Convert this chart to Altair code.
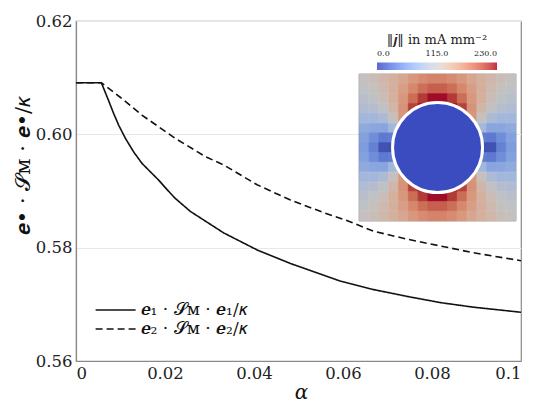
import altair as alt
import pandas as pd

# ---------------- data ----------------
alpha_e1 = [0.0, 0.0057, 0.0073, 0.00845, 0.0096, 0.0111, 0.01295, 0.0148, 0.0167,
            0.0186, 0.0204, 0.0223, 0.0257, 0.0332, 0.0407, 0.0482, 0.0594, 0.0669,
            0.0744, 0.0819, 0.0893, 0.1]
value_e1 = [0.6091, 0.6091, 0.6060, 0.6037, 0.6016, 0.5993, 0.5969, 0.5949, 0.5934,
            0.5919, 0.5903, 0.5887, 0.5864, 0.5826, 0.5796, 0.5772, 0.5741, 0.5726,
            0.5714, 0.5703, 0.5695, 0.5686]

alpha_e2 = [0.0, 0.0057, 0.0100, 0.0148, 0.0223, 0.0290, 0.0332, 0.0407, 0.0482,
            0.0556, 0.0605, 0.0669, 0.0744, 0.0819, 0.0893, 0.1]
value_e2 = [0.6091, 0.6091, 0.6065, 0.6034, 0.5993, 0.5961, 0.5946, 0.5911, 0.5884,
            0.5862, 0.5849, 0.5829, 0.5815, 0.5803, 0.5791, 0.5777]

series_labels = ["𝒆₁ · 𝓢ᴍ · 𝒆₁/𝜅", "𝒆₂ · 𝓢ᴍ · 𝒆₂/𝜅"]
x_ticks = [0, 0.02, 0.04, 0.06, 0.08, 0.1]
y_ticks = [0.56, 0.58, 0.60, 0.62]

# inset: ||j|| in mA mm^-2 on a 15 x 16 grid (rows top -> bottom)
field_rows = [
    [118, 123, 131, 140, 150, 162, 171, 176, 176, 171, 162, 150, 140, 131, 123, 118],
    [112, 119, 128, 141, 157, 174, 189, 198, 198, 189, 174, 157, 141, 128, 119, 112],
    [106, 112, 123, 140, 162, 190, 216, 230, 230, 216, 190, 162, 140, 123, 112, 106],
    [97, 102, 112, 133, 166, 213, 230, 230, 230, 230, 213, 166, 133, 112, 102, 97],
    [85, 86, 94, 118, 164, 200, 5, 5, 5, 5, 200, 164, 118, 94, 86, 85],
    [72, 67, 66, 85, 119, 5, 5, 5, 5, 5, 5, 119, 85, 66, 67, 72],
    [62, 46, 31, 34, 5, 5, 5, 5, 5, 5, 5, 5, 34, 31, 46, 62],
    [57, 37, 6, 5, 5, 5, 5, 5, 5, 5, 5, 5, 5, 6, 37, 57],
    [62, 46, 31, 34, 5, 5, 5, 5, 5, 5, 5, 5, 34, 31, 46, 62],
    [72, 67, 66, 85, 119, 5, 5, 5, 5, 5, 5, 119, 85, 66, 67, 72],
    [85, 86, 94, 118, 164, 200, 5, 5, 5, 5, 200, 164, 118, 94, 86, 85],
    [97, 102, 112, 133, 166, 213, 230, 230, 230, 230, 213, 166, 133, 112, 102, 97],
    [106, 112, 123, 140, 162, 190, 216, 230, 230, 216, 190, 162, 140, 123, 112, 106],
    [112, 119, 128, 141, 157, 174, 189, 198, 198, 189, 174, 157, 141, 128, 119, 112],
    [118, 123, 131, 140, 150, 162, 171, 176, 176, 171, 162, 150, 140, 131, 123, 118],
]
inclusion_col = [8.0]
inclusion_row = [7.5]
cbar_values = [0, 115, 230]
cbar_title = "‖𝒋‖ in mA mm⁻²"

# ---------------- tables ----------------
lines_df = pd.concat([
    pd.DataFrame({"alpha": alpha_e1, "val": value_e1, "series": series_labels[0]}),
    pd.DataFrame({"alpha": alpha_e2, "val": value_e2, "series": series_labels[1]}),
], ignore_index=True)

cells = []
for r, row in enumerate(field_rows):
    for c, v in enumerate(row):
        cells.append({"c0": c, "c1": c + 1, "r0": r, "r1": r + 1, "j": v})
field_df = pd.DataFrame(cells)
incl_df = pd.DataFrame({"c": inclusion_col, "r": inclusion_row})

FONT = "DejaVu Serif"
cool_warm = ["#3b4cc0", "#6282ea", "#8db0fe", "#b8d0f9", "#dddddd",
             "#f5c4ad", "#f49a7b", "#de604d", "#b40426"]
cdomain = [0, 28.75, 57.5, 86.25, 115, 143.75, 172.5, 201.25, 230]

# ---------------- main lines ----------------
lines = alt.Chart(lines_df).mark_line(color="#111111", strokeWidth=1.6, clip=True).encode(
    x=alt.X("alpha:Q",
            scale=alt.Scale(domain=[0, 0.1], nice=False, zero=False),
            axis=alt.Axis(values=x_ticks, format=".2~f", title="α", grid=False,
                          ticks=False, labelPadding=4, labelFontSize=16.5,
                          labelFont=FONT, titleFont=FONT, labelColor="#222222",
                          titleFontSize=20, titleFontStyle="italic", titleFontWeight="normal",
                          titleX=225, titleY=37, titleBaseline="alphabetic")),
    y=alt.Y("val:Q",
            scale=alt.Scale(domain=[0.56, 0.62], nice=False, zero=False),
            axis=alt.Axis(values=y_ticks, format=".2f", grid=True, ticks=False,
                          title="𝒆• · 𝓢ᴍ · 𝒆•/𝜅", labelPadding=4, labelFontSize=16.5,
                          labelFont=FONT, titleFont=FONT, labelColor="#222222",
                          titleFontSize=21, titleFontWeight="normal",
                          titleX=-47, titleY=144, titleAngle=270,
                          titleAlign="center", titleBaseline="alphabetic")),
    strokeDash=alt.StrokeDash("series:N",
                              scale=alt.Scale(domain=series_labels, range=[[1, 0], [7, 4]]),
                              legend=alt.Legend(orient="none", legendX=18.6, legendY=280.5,
                                                title=None, symbolType="stroke",
                                                symbolSize=1600, symbolStrokeWidth=1.6,
                                                symbolStrokeColor="#111111", clipHeight=17,
                                                labelFont=FONT, labelFontSize=17,
                                                labelColor="#111111",
                                                labelOffset=4, rowPadding=1,
                                                padding=0, labelLimit=400)),
)

# ---------------- inset ----------------
xs = alt.Scale(domain=[-28.87, 16.51], nice=False, zero=False)
ys = alt.Scale(domain=[-5.41, 29.29], reverse=True, nice=False, zero=False)

base = alt.Chart(field_df).mark_rect(color="#3a3a3a", stroke="#3a3a3a", strokeWidth=0.5).encode(
    x=alt.X("c0:Q", scale=xs, axis=None), x2="c1:Q",
    y=alt.Y("r0:Q", scale=ys, axis=None), y2="r1:Q",
)
heat = alt.Chart(field_df).mark_rect(opacity=0.84, strokeWidth=0.5).encode(
    x=alt.X("c0:Q", scale=xs, axis=None), x2="c1:Q",
    y=alt.Y("r0:Q", scale=ys, axis=None), y2="r1:Q",
    color=alt.Color("j:Q", scale=alt.Scale(domain=cdomain, range=cool_warm),
                    legend=alt.Legend(orient="none", legendX=301, legendY=12.5,
                                      direction="horizontal", gradientLength=120,
                                      gradientThickness=7.6, gradientStrokeWidth=0,
                                      title=cbar_title, titleFont=FONT, titleFontSize=13,
                                      titleFontWeight="normal", titleAnchor="middle",
                                      titlePadding=16, titleColor="#222222",
                                      labelFont=FONT, labelFontSize=8, labelColor="#222222",
                                      labelOffset={"expr": "-20"}, labelAlign="center",
                                      values=cbar_values, format=".1f",
                                      labelOverlap=False, padding=0)),
    stroke=alt.Stroke("j:Q", scale=alt.Scale(domain=cdomain, range=cool_warm), legend=None),
)
inclusion = alt.Chart(incl_df).mark_point(shape="circle", filled=True, fill="#3b4cc0",
                                          stroke="white", strokeWidth=3, size=8100,
                                          opacity=1).encode(
    x=alt.X("c:Q", scale=xs, axis=None),
    y=alt.Y("r:Q", scale=ys, axis=None),
)
inset = alt.layer(base, heat, inclusion)

chart = alt.layer(lines, inset).resolve_scale(
    x="independent", y="independent", color="independent", strokeDash="independent"
).properties(
    width=445, height=340,
    autosize=alt.AutoSizeParams(type="none"),
    padding={"left": 68, "top": 13, "right": 10, "bottom": 47},
).configure(font=FONT).configure_view(
    stroke="#8a8a8a", strokeWidth=1.2
).configure_axis(
    domainColor="#8a8a8a", domainWidth=1.2, gridColor="#e8e8e8", gridWidth=1,
    labelColor="#222222", titleColor="#111111", labelFont=FONT, titleFont=FONT,
)

chart.save("out.html", embed_options={"renderer": "svg", "actions": False})
